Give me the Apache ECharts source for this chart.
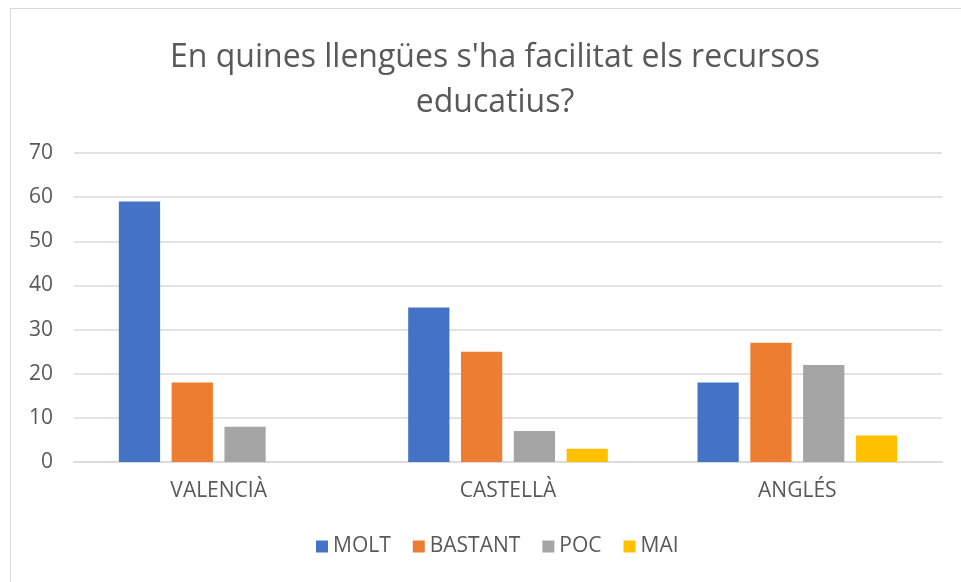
<!DOCTYPE html>
<html>
<head>
<meta charset="utf-8">
<title>Recursos educatius</title>
<script src="https://cdn.jsdelivr.net/npm/echarts@6/dist/echarts.min.js"></script>
<style>
  html, body { margin: 0; padding: 0; background: #fff; }
  #frame {
    position: absolute; left: 10px; top: 8px; width: 960px; height: 600px;
    border: 1px solid #d9d9d9; box-sizing: border-box;
  }
  #main { position: absolute; left: 0; top: 0; width: 961px; height: 582px; }
</style>
</head>
<body>
<div id="frame"></div>
<div id="main"></div>
<script>
var categories = ['VALENCIÀ', 'CASTELLÀ', 'ANGLÉS'];
var molt    = [59, 35, 18];
var bastant = [18, 25, 27];
var poc     = [8, 7, 22];
var mai     = [0, 3, 6];

var fontFam = '"Open Sans", "Noto Sans", sans-serif';
var chart = echarts.init(document.getElementById('main'));

function bar(name, data, color) {
  return {
    name: name, type: 'bar', data: data,
    barGap: '28%', barCategoryGap: '31%',
    itemStyle: { color: color }
  };
}

chart.setOption({
  animation: false,
  title: {
    text: "En quines llengües s'ha facilitat els recursos\neducatius?",
    left: 490, top: 30, textAlign: 'center',
    textStyle: { fontFamily: fontFam, fontSize: 32, fontWeight: 'normal', color: '#595959', lineHeight: 45 }
  },
  legend: {
    bottom: 20, left: 311,
    itemWidth: 12, itemHeight: 12, itemGap: 22,
    icon: 'rect',
    textStyle: { fontFamily: fontFam, fontSize: 21, color: '#595959' },
    data: ['MOLT', 'BASTANT', 'POC', 'MAI']
  },
  grid: { left: 74, right: 19, top: 153, bottom: 120 },
  xAxis: {
    type: 'category', data: categories,
    axisLine: { lineStyle: { color: '#d9d9d9', width: 1.5 } },
    axisTick: { show: false },
    axisLabel: { fontFamily: fontFam, fontSize: 21, color: '#595959', margin: 19 }
  },
  yAxis: {
    type: 'value', min: 0, max: 70, interval: 10,
    axisLine: { show: false }, axisTick: { show: false },
    splitLine: { lineStyle: { color: '#d9d9d9', width: 1.5 } },
    axisLabel: { fontFamily: fontFam, fontSize: 21, color: '#595959', margin: 21 }
  },
  series: [
    bar('MOLT', molt, '#4472C4'),
    bar('BASTANT', bastant, '#ED7D31'),
    bar('POC', poc, '#A5A5A5'),
    bar('MAI', mai, '#FFC000')
  ]
});
</script>
</body>
</html>
